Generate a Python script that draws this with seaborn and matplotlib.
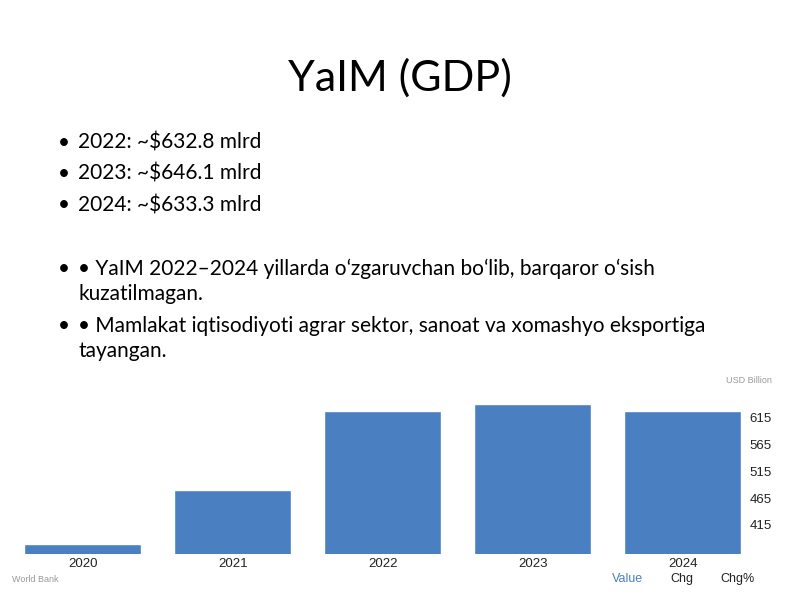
import matplotlib
matplotlib.use("Agg")
import matplotlib.pyplot as plt
import seaborn as sns
import pandas as pd

title = "YaIM (GDP)"
bullets1 = ["2022: ~$632.8 mlrd", "2023: ~$646.1 mlrd", "2024: ~$633.3 mlrd"]
bullets2 = ["• YaIM 2022–2024 yillarda oʻzgaruvchan boʻlib, barqaror oʻsish\nkuzatilmagan.",
            "• Mamlakat iqtisodiyoti agrar sektor, sanoat va xomashyo eksportiga\ntayangan."]
years = ["2020", "2021", "2022", "2023", "2024"]
values = [379.5, 480.5, 628.5, 641.5, 628.5]
yticks = [415, 465, 515, 565, 615]

sns.set_style("white")
plt.rcParams['font.family'] = ['Lato', 'DejaVu Sans']
fig = plt.figure(figsize=(8, 6), dpi=100)
fig.text(0.5, 0.87, title, ha="center", va="center", fontsize=31, color="black")
ys = [0.762, 0.710, 0.658]
for y, b in zip(ys, bullets1):
    fig.text(0.072, y, "•", fontsize=15, va="center", color="black")
    fig.text(0.098, y, b, fontsize=15, va="center", color="black")
ys2 = [0.569, 0.473]
for y, b in zip(ys2, bullets2):
    fig.text(0.072, y, "•", fontsize=15, va="top", color="black")
    fig.text(0.098, y, b, fontsize=15, va="top", linespacing=1.3, color="black")

ax = fig.add_axes([0.025, 0.077, 0.907, 0.265])
df = pd.DataFrame({"year": years, "value": values})
sns.barplot(data=df, x="year", y="value", color="#4a7fc1", saturation=1, width=0.78, ax=ax)
ax.set_ylim(361, 658)
ax.set_xlim(-0.42, 4.42)
ax.yaxis.tick_right()
ax.set_yticks(yticks)
ax.tick_params(axis="both", length=0, labelsize=9.5, colors="#222222", pad=3)
for lab in ax.get_xticklabels() + ax.get_yticklabels():
    lab.set_family("Liberation Sans")
ax.set_xlabel(""); ax.set_ylabel("")
for s in ax.spines.values():
    s.set_visible(False)
fig.text(0.965, 0.362, "USD Billion", fontsize=6.5, color="#999999", ha="right", family="Liberation Sans")
fig.text(0.015, 0.030, "World Bank", fontsize=6.5, color="#999999", family="Liberation Sans")
fig.text(0.765, 0.030, "Value", fontsize=9, color="#4a7fc1", family="Liberation Sans")
fig.text(0.838, 0.030, "Chg", fontsize=9, color="#222222", family="Liberation Sans")
fig.text(0.900, 0.030, "Chg%", fontsize=9, color="#222222", family="Liberation Sans")
fig.savefig("out.png", dpi=100)
